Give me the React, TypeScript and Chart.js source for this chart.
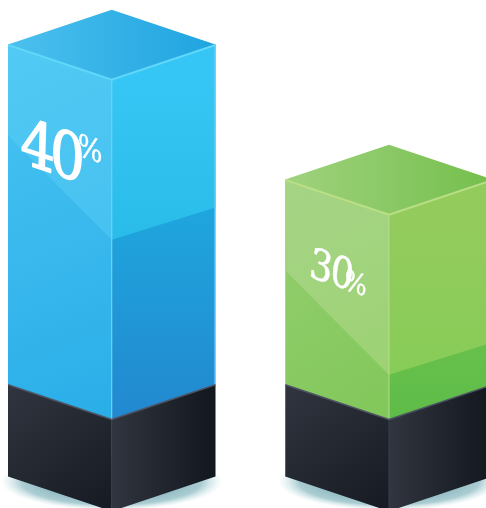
import React, { useEffect, useRef } from "react";
import { Chart, registerables } from "chart.js";

Chart.register(...registerables);

const categories = ["Blue", "Green"];
const shares = [40, 30];
const plinthTop = [14.8, 14.8];
const plinthBottom = [8, 8];

// Per-column colours: [start, end] of each face gradient.
const topFaces = [["#4cc0ee", "#1fa4e0"], ["#a0d27e", "#74bf4c"]];
const glossLeft = [["#52caf5", "#47c1f0"], ["#a6d486", "#9dd274"]];
const bodyLeft = [["#42bff0", "#2aaee8"], ["#8fcc6a", "#82c85a"]];
const glossRight = [["#36c6f5", "#2abce8"], ["#93cb5c", "#88cc58"]];
const bodyRight = [["#1fa6de", "#2288cf"], ["#68c04c", "#5ebc48"]];
const rimColors = ["#5ed7f9", "#b9de86"];
const seamColors = ["#77d6f8", "#b4dc90"];
const plinthLeft = ["#30353f", "#161a22"];
const plinthRight = ["#31353f", "#12161d"];
const plinthRim = "#4d5362";

type Pt = [number, number];

function fillPoly(ctx: CanvasRenderingContext2D, pts: Pt[], fill: string | CanvasGradient) {
  ctx.beginPath();
  pts.forEach(([x, y], i) => (i ? ctx.lineTo(x, y) : ctx.moveTo(x, y)));
  ctx.closePath();
  ctx.fillStyle = fill;
  ctx.fill();
}

function grad(ctx: CanvasRenderingContext2D, a: Pt, b: Pt, c: string[]) {
  const g = ctx.createLinearGradient(a[0], a[1], b[0], b[1]);
  g.addColorStop(0, c[0]);
  g.addColorStop(1, c[1]);
  return g;
}

function line(ctx: CanvasRenderingContext2D, a: Pt, b: Pt, color: string, w: number) {
  ctx.beginPath();
  ctx.moveTo(a[0], a[1]);
  ctx.lineTo(b[0], b[1]);
  ctx.strokeStyle = color;
  ctx.lineWidth = w;
  ctx.stroke();
}

const DEPTH_RATIO = 0.335;
const GLOSS_LEFT_DROP = 91;
const GLOSS_MID_DROP = 160.5;
const GLOSS_RIGHT_DROP = 163;

// Turns the floating bars into isometric blocks standing on dark plinths.
const blocksPlugin = {
  id: "blocks",
  afterDatasetsDraw(chart: any) {
    const ctx: CanvasRenderingContext2D = chart.ctx;
    const colour = chart.getDatasetMeta(0).data;
    const plinth = chart.getDatasetMeta(1).data;
    ctx.save();
    colour.forEach((bar: any, i: number) => {
      const base = plinth[i];
      const half = bar.width / 2;
      const d = half * DEPTH_RATIO;
      const l = bar.x - half;
      const m = bar.x;
      const r = bar.x + half;
      const top = bar.y;
      const join = bar.base;
      const foot = base.base;

      // Soft floor shadow beneath the plinth
      ctx.save();
      ctx.translate(m, foot + 5);
      ctx.scale(1, 0.26);
      const halo = ctx.createRadialGradient(0, 0, half * 0.5, 0, 0, half + 7);
      halo.addColorStop(0, "rgba(105,160,170,0.85)");
      halo.addColorStop(0.65, "rgba(125,178,186,0.65)");
      halo.addColorStop(1, "rgba(180,218,222,0)");
      ctx.fillStyle = halo;
      ctx.beginPath();
      ctx.arc(0, 0, half + 7, 0, Math.PI * 2);
      ctx.fill();
      ctx.restore();

      // Plinth
      fillPoly(ctx, [[l, join], [m, join + d], [m, foot + d], [l, foot]],
        grad(ctx, [l, join], [m, foot + d], plinthLeft));
      fillPoly(ctx, [[m, join + d], [r, join], [r, foot], [m, foot + d]],
        grad(ctx, [m, join], [r, join], plinthRight));
      line(ctx, [m, join + d], [m, foot + d], "#3a3f4c", 1);

      // Column left face: body, then the lighter diagonal sheen
      fillPoly(ctx, [[l, top], [m, top + d], [m, join + d], [l, join]],
        grad(ctx, [l, top + GLOSS_LEFT_DROP], [m, join + d], bodyLeft[i]));
      fillPoly(ctx, [[l, top], [m, top + d], [m, top + GLOSS_MID_DROP + d], [l, top + GLOSS_LEFT_DROP]],
        grad(ctx, [l, top], [m, top + GLOSS_MID_DROP + d], glossLeft[i]));

      // Column right face: body, then the lighter upper band
      fillPoly(ctx, [[m, top + d], [r, top], [r, join], [m, join + d]],
        grad(ctx, [m, top + GLOSS_RIGHT_DROP], [m, join + d], bodyRight[i]));
      fillPoly(ctx, [[m, top + d], [r, top], [r, top + GLOSS_RIGHT_DROP], [m, top + GLOSS_MID_DROP + d]],
        grad(ctx, [m, top + d], [m, top + GLOSS_MID_DROP + d], glossRight[i]));

      // Top face
      fillPoly(ctx, [[l, top], [m, top - d], [r, top], [m, top + d]],
        grad(ctx, [l, top], [r, top], topFaces[i]));

      // Edge highlights
      line(ctx, [m, top + d], [m, join + d], seamColors[i], 1);
      line(ctx, [r - 0.5, top], [r - 0.5, join], seamColors[i], 1);
      line(ctx, [l, top + 0.5], [m, top + d + 0.5], rimColors[i], 2);
      line(ctx, [m, top + d + 0.5], [r, top + 0.5], rimColors[i], 2);
      line(ctx, [l, join], [m, join + d], plinthRim, 1.5);
      line(ctx, [m, join + d], [r, join], plinthRim, 1.5);

      // Share label, sheared to lie on the left face
      const big = i === 0;
      const sx = 0.85;
      ctx.save();
      ctx.translate(l + (big ? 12 : 23), top + (big ? 118 : 97));
      ctx.transform(sx, 0.33 * sx, big ? -0.03 : -0.12, 1, 0, 0);
      ctx.fillStyle = "#ffffff";
      ctx.strokeStyle = "#ffffff";
      ctx.lineJoin = "round";
      ctx.textBaseline = "alphabetic";
      ctx.textAlign = "left";
      const digits = String(shares[i]);
      (ctx as any).letterSpacing = big ? "-6px" : "-2px";
      ctx.font = `${big ? 64 : 42}px "DejaVu Serif"`;
      ctx.fillText(digits, 0, 0);
      ctx.lineWidth = big ? 1.4 : 0.6;
      ctx.strokeText(digits, 0, 0);
      const w = ctx.measureText(digits).width;
      (ctx as any).letterSpacing = "0px";
      ctx.font = `${big ? 31 : 28}px "DejaVu Serif"`;
      const px = w - (big ? 3 : 8);
      const py = big ? -26 : 1;
      ctx.fillText("%", px, py);
      ctx.lineWidth = 0.4;
      ctx.strokeText("%", px, py);
      ctx.restore();
    });
    ctx.restore();
  },
};

export default function App() {
  const ref = useRef<HTMLCanvasElement>(null);
  useEffect(() => {
    const chart = new Chart(ref.current!, {
      type: "bar",
      data: {
        labels: categories,
        datasets: [
          {
            label: "Share",
            data: shares.map((v, i) => [plinthTop[i], v]) as any,
            backgroundColor: "transparent",
            barThickness: 207.5,
            grouped: false,
          } as any,
          {
            label: "Plinth",
            data: plinthTop.map((v, i) => [plinthBottom[i], v]) as any,
            backgroundColor: "transparent",
            barThickness: 207.5,
            grouped: false,
          } as any,
        ],
      },
      options: {
        responsive: false,
        animation: false,
        layout: { padding: { left: 111.75, right: 97, top: 0, bottom: 0 } },
        plugins: { legend: { display: false }, tooltip: { enabled: false } },
        scales: {
          x: { display: false, offset: false },
          y: { display: false, min: 5.667, max: 43.296 },
        },
      },
      plugins: [blocksPlugin],
    });
    return () => chart.destroy();
  }, []);
  return (
    <div style={{ position: "absolute", left: 0, top: 0, width: 486, height: 508, overflow: "hidden", background: "#fff" }}>
      <canvas ref={ref} width={486} height={508} style={{ display: "block" }} />
    </div>
  );
}
